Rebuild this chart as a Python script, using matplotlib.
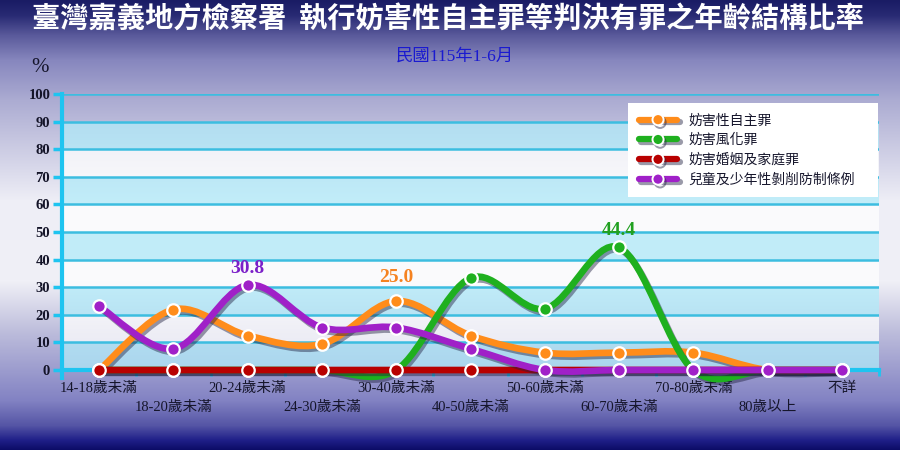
import matplotlib
matplotlib.use('Agg')
import matplotlib.pyplot as plt
import matplotlib.patheffects as pe
import numpy as np
from matplotlib.path import Path
from matplotlib.patches import PathPatch
from matplotlib.lines import Line2D

# 資料
age_groups = ['14-18歲未滿', '18-20歲未滿', '20-24歲未滿', '24-30歲未滿', '30-40歲未滿',
              '40-50歲未滿', '50-60歲未滿', '60-70歲未滿', '70-80歲未滿', '80歲以上', '不詳']
sexual_autonomy = [0, 21.9, 12.5, 9.4, 25.0, 12.5, 6.3, 6.3, 6.3, 0, 0]
public_morals = [0, 0, 0, 0, 0, 33.3, 22.2, 44.4, 0, 0, 0]
marriage_family = [0, 0, 0, 0, 0, 0, 0, 0, 0, 0, 0]
child_exploitation = [23.1, 7.7, 30.8, 15.4, 15.4, 7.7, 0, 0, 0, 0, 0]

series_names = ['妨害性自主罪', '妨害風化罪', '妨害婚姻及家庭罪', '兒童及少年性剝削防制條例']
series_values = [sexual_autonomy, public_morals, marriage_family, child_exploitation]
series_colors = ['#ff8c1a', '#1fb01f', '#b80000', '#a020c8']
label_colors = ['#f58220', '#20a020', '#b80000', '#7b1fc8']

title = '臺灣嘉義地方檢察署  執行妨害性自主罪等判決有罪之年齡結構比率'
subtitle = '民國115年1-6月'

CJK = 'Noto Sans CJK TC'
SERIF_CJK = ['Liberation Serif', 'Noto Sans CJK TC']


def smooth_path(xs, ys):
    # 類似 Excel 平滑線 (Catmull-Rom -> Bezier)
    pts = np.column_stack([xs, ys]).astype(float)
    n = len(pts)
    verts = [pts[0]]
    codes = [Path.MOVETO]
    for i in range(n - 1):
        p0 = pts[max(i - 1, 0)]
        p1 = pts[i]
        p2 = pts[i + 1]
        p3 = pts[min(i + 2, n - 1)]
        c1 = p1 + (p2 - p0) / 6.0
        c2 = p2 - (p3 - p1) / 6.0
        verts += [c1, c2, p2]
        codes += [Path.CURVE4] * 3
    return Path(verts, codes)


fig = plt.figure(figsize=(9, 4.5), dpi=100)

# 背景漸層
bg = fig.add_axes([0, 0, 1, 1], zorder=-10)
stops_y = [0, 15, 35, 60, 100, 200, 280, 330, 400, 425, 440, 450]
stops_c = np.array([
    [26, 28, 100], [40, 42, 115], [90, 90, 155], [135, 135, 190], [172, 172, 210],
    [238, 238, 246], [240, 240, 247], [190, 190, 220], [130, 130, 195],
    [85, 85, 165], [30, 30, 135], [10, 10, 100]]) / 255.0
yy = np.arange(450)
grad = np.stack([np.interp(yy, stops_y, stops_c[:, k]) for k in range(3)], axis=-1)
bg.imshow(grad[:, None, :], aspect='auto', extent=[0, 1, 1, 0])
bg.set_xlim(0, 1)
bg.set_ylim(1, 0)
bg.axis('off')

ax = fig.add_axes([62 / 900, (450 - 378.3) / 450, 817 / 900, 284.3 / 450])
ax.patch.set_alpha(0)
ax.set_xlim(-0.5, len(age_groups) - 0.5)
ax.set_ylim(-3, 100)

# 背景色帶
for lo in range(0, 90, 10):
    if (lo // 10) % 2 == 0:
        ax.axhspan(lo, lo + 10, color='#b0ecfa', alpha=0.72, lw=0, zorder=0)
    else:
        ax.axhspan(lo, lo + 10, color='#ffffff', alpha=0.75, lw=0, zorder=0)
for g in range(10, 101, 10):
    ax.axhline(g, color='#3cbde0', lw=1.8, zorder=1)

for s in ['top', 'right']:
    ax.spines[s].set_visible(False)
ax.spines['bottom'].set_position(('data', 0))
ax.spines['bottom'].set_color('#1ec4f0')
ax.spines['bottom'].set_linewidth(3)
ax.spines['bottom'].set_zorder(2)
ax.spines['left'].set_color('#1ec4f0')
ax.spines['left'].set_linewidth(3)

ax.set_yticks(range(0, 101, 10))
ax.set_yticklabels([str(v) for v in range(0, 101, 10)], fontfamily='Liberation Serif',
                   fontweight='bold', fontsize=10.5, color='#141428')
ax.tick_params(axis='y', length=6.5, width=2.5, color='#1ec4f0', pad=2)
ax.set_xticks(np.arange(-0.5, len(age_groups)), labels=[])
ax.tick_params(axis='x', length=4, width=2, color='#1ec4f0')

x = np.arange(len(age_groups))
shadow = [pe.SimpleLineShadow(offset=(1.5, -2), shadow_color='#202040', alpha=0.45), pe.Normal()]
for k, (vals, col) in enumerate(zip(series_values, series_colors)):
    patch = PathPatch(smooth_path(x, vals), fill=False, edgecolor=col, lw=4.8,
                      capstyle='round', joinstyle='round', zorder=3 + 2 * k,
                      path_effects=shadow, clip_on=False)
    ax.add_patch(patch)
    ax.plot(x, vals, 'o', ms=9, mfc=col, mec='white', mew=1.6, zorder=4 + 2 * k, clip_on=False)

# 最大值標籤
offsets = {0: 24, 1: 17, 3: 17}
for k, vals in enumerate(series_values):
    if max(vals) > 0:
        i = int(np.argmax(vals))
        ax.annotate(f'{vals[i]:.1f}', xy=(i, vals[i]), xytext=(0, offsets.get(k, 18)),
                    textcoords='offset pixels', ha='center', va='center',
                    fontfamily='Liberation Serif', fontweight='bold', fontsize=14,
                    color=label_colors[k], zorder=20)

# 年齡層標籤 (兩列交錯)
for i, lab in enumerate(age_groups):
    dy = -18 if i % 2 == 0 else -37
    ax.annotate(lab, xy=(i, 0), xytext=(0, dy), textcoords='offset pixels',
                ha='center', va='center', fontfamily=SERIF_CJK, fontsize=10.5,
                color='#16162c', annotation_clip=False)

handles = [Line2D([], [], color=c, lw=4.5, marker='o', ms=8, mfc=c, mec='white', mew=1.4,
                  solid_capstyle='round', path_effects=shadow) for c in series_colors]
leg = ax.legend(handles, series_names, loc='upper left', bbox_to_anchor=(0.693, 0.648, 0.306, 0.32),
                mode='expand', borderaxespad=0, frameon=True, fancybox=False, framealpha=1,
                edgecolor='none', facecolor='white', handlelength=2.8, labelspacing=0.42,
                borderpad=0.75, prop={'family': CJK, 'size': 10})
leg.set_zorder(30)
for t in leg.get_texts():
    t.set_color('#16162c')

fig.text(448 / 900, 1 - 20 / 450, title, ha='center', va='center', color='white',
         fontfamily=CJK, fontweight='bold', fontsize=20.3)
fig.text(455 / 900, 1 - 57 / 450, subtitle, ha='center', va='center', color='#1a1ad0',
         fontfamily=SERIF_CJK, fontsize=12.5)
fig.text(40 / 900, 1 - 68 / 450, '%', ha='center', va='center', color='#16162c',
         fontfamily='Liberation Serif', fontsize=15)

fig.savefig('out.png', dpi=100)
